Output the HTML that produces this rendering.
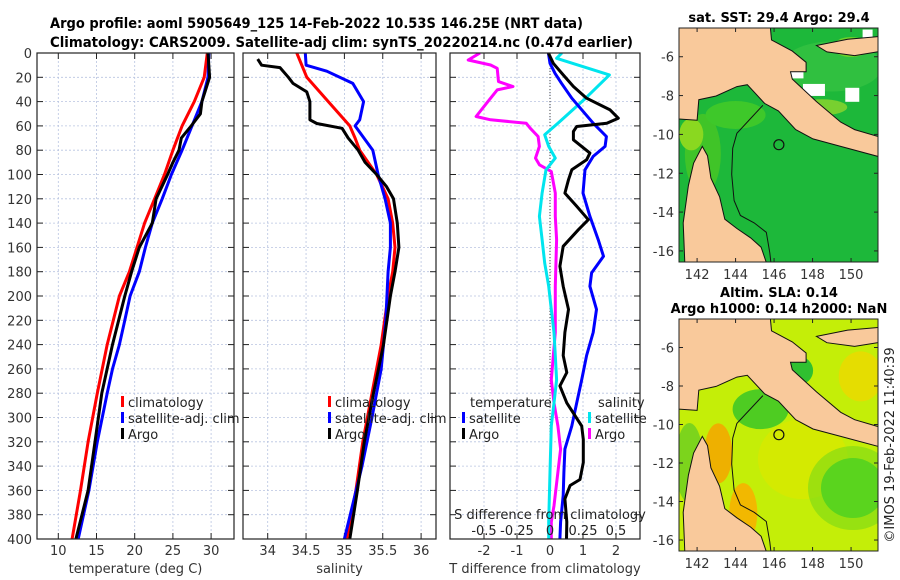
<!DOCTYPE html>
<html><head><meta charset="utf-8">
<style>
html,body{margin:0;padding:0;background:#fff;}
svg{display:block;font-family:"DejaVu Sans","Liberation Sans",sans-serif;}
</style></head>
<body>
<svg id="fig" width="900" height="580" viewBox="0 0 900 580" xmlns="http://www.w3.org/2000/svg">
<text x="50" y="28" font-size="14" font-weight="bold" fill="#000" textLength="533" lengthAdjust="spacingAndGlyphs">Argo profile: aoml 5905649_125 14-Feb-2022 10.53S 146.25E (NRT data)</text>
<text x="50" y="47" font-size="14" font-weight="bold" fill="#000" textLength="583" lengthAdjust="spacingAndGlyphs">Climatology: CARS2009. Satellite-adj clim: synTS_20220214.nc (0.47d earlier)</text>
<g id="panels"></g>
<g id="maps"></g>
<text transform="translate(894,445) rotate(-90)" text-anchor="middle" font-size="13" fill="#222">©IMOS 19-Feb-2022 11:40:39</text>
</svg>
<script>
// ---------- data ----------
const depthTicks = [0,20,40,60,80,100,120,140,160,180,200,220,240,260,280,300,320,340,360,380,400];
const tempTicks = [10,15,20,25,30];
const salTicks = [34,34.5,35,35.5,36];
const tdiffTicks = [-2,-1,0,1,2];
const sdiffTicks = [-0.5,-0.25,0,0.25,0.5];
const sdiffLabels = ["-0.5","-0.25","0","0.25","0.5"];

const tClimDepth = [0,20,40,60,80,100,120,140,160,180,200,240,280,320,360,400];
const tClimVal   = [29.5,29.1,27.8,26.2,25.0,23.9,22.6,21.3,20.3,19.3,18.0,16.4,15.1,13.9,12.9,11.8];
const tSatDepth  = [0,20,40,60,80,100,120,140,160,180,200,220,240,260,280,320,360,400];
const tSatVal    = [29.7,29.6,28.8,27.5,26.2,24.8,23.6,22.3,21.4,20.6,19.4,18.7,18.0,17.1,16.4,15.1,14.0,12.6];
const tArgoDepth = [0,20,40,50,55,60,70,80,90,100,120,140,160,180,200,240,280,320,360,400];
const tArgoVal   = [29.6,29.8,28.8,28.6,28.0,27.4,26.1,25.8,25.0,24.3,22.8,22.3,20.6,19.6,18.7,17.1,15.7,14.8,13.9,12.3];

const sClimDepth = [0,20,40,60,70,80,100,120,140,160,180,200,240,280,320,360,400];
const sClimVal   = [34.38,34.51,34.79,35.07,35.14,35.2,35.42,35.57,35.63,35.66,35.63,35.57,35.48,35.36,35.24,35.15,35.03];
const sSatDepth  = [0,10,15,25,40,55,60,80,100,120,140,160,180,220,260,300,340,400];
const sSatVal    = [34.49,34.5,34.77,35.11,35.25,35.2,35.14,35.37,35.44,35.53,35.6,35.6,35.57,35.54,35.48,35.36,35.23,35.0];
const sArgoDepth = [5,10,12,20,25,32,40,55,58,62,70,80,90,100,110,120,140,160,180,200,240,280,320,360,400];
const sArgoVal   = [33.87,33.92,34.16,34.27,34.33,34.51,34.55,34.55,34.64,34.97,35.05,35.18,35.27,35.42,35.55,35.64,35.69,35.71,35.66,35.6,35.51,35.38,35.26,35.17,35.07];

const dTSatDepth = [0,8.5,16.7,24.9,37.2,57.8,68.7,76.9,85.1,96.1,115.3,134.4,153.6,167.3,181,192,211,230,249,269,288,307,326,345,364,386,400];
const dTSatVal   = [-0.05,0,0.15,0.35,0.66,1.31,1.71,1.67,1.31,1.06,1.0,1.21,1.46,1.62,1.26,1.21,1.41,1.31,1.11,0.96,0.81,0.66,0.45,0.42,0.40,0.32,0.30];
const dTArgoDepth = [0,8.5,18,27.6,37.2,46.8,53.7,57.8,60.5,64.6,71.4,82.4,87.9,96.1,104.3,115.3,126.2,137.2,145.4,159.1,175.5,192,211,230,249,263,274,288,307,318,337,351,356,367,386,400];
const dTArgoVal   = [-0.05,0.1,0.4,0.71,1.11,1.82,2.07,1.72,0.81,0.71,0.71,1.21,1.11,0.66,0.56,0.45,0.81,1.16,0.86,0.40,0.30,0.40,0.56,0.45,0.40,0.51,0.30,0.51,0.96,1.01,1.01,0.91,0.61,0.45,0.51,0.5];
const dSSatDepth = [0,4.4,18,37.2,57.8,67.3,76.9,86.5,96.1,115.3,134.4,153.6,172.8,192,211,230,249,269,288,307,345,386,400];
const dSSatVal   = [0.09,0.05,0.45,0.27,0.06,-0.04,-0.01,0.04,-0.03,-0.06,-0.08,-0.06,-0.04,-0.01,0.01,0.03,0.04,0.05,0.03,0.01,0.0,-0.01,-0.01];
const dSArgoDepth = [0,5.8,9.9,12.6,23.5,27.6,30.4,41.3,52.3,55,57.8,61.9,68.7,76.9,86.5,92,97.5,115.3,134.4,153.6,192,230,269,288,307,326,345,372.6,386,400];
const dSArgoVal   = [-0.53,-0.62,-0.45,-0.40,-0.39,-0.28,-0.40,-0.48,-0.56,-0.45,-0.18,-0.15,-0.09,-0.08,-0.11,-0.08,0.01,0.04,0.04,0.05,0.04,0.04,0.01,0.03,0.06,0.08,0.06,0.03,0.01,0.01];

// ---------- helpers ----------
const NS = "http://www.w3.org/2000/svg";
function mk(tag, attrs, parent){ const e=document.createElementNS(NS,tag); for(const k in attrs) e.setAttribute(k,attrs[k]); if(parent) parent.appendChild(e); return e; }
const TOP=53, BOT=539;
const yScale = d => TOP + (d/400)*(BOT-TOP);
const panelsG = document.getElementById('panels');

function makePanel(name, x0, x1, xmin, xmax, ticks, tickLabels, xlabel, showY){
  const xs = v => x0 + (v - xmin)/(xmax - xmin)*(x1 - x0);
  const g = mk('g',{},panelsG);
  
  
  // grid
  depthTicks.forEach(d=>{
    const l = mk('line',{x1:x0,x2:x1,y1:yScale(d),y2:yScale(d),stroke:'#b8c4e0','stroke-width':0.8,'stroke-dasharray':'2,2'},g);
    
    
    mk('line',{x1:x0,x2:x0+6,y1:yScale(d),y2:yScale(d),stroke:'#222','stroke-width':1},g);
    mk('line',{x1:x1-6,x2:x1,y1:yScale(d),y2:yScale(d),stroke:'#222','stroke-width':1},g);
    if(showY){
      const t = mk('text',{x:x0-5,y:yScale(d)+5,'text-anchor':'end','font-size':13,fill:'#333'},g);
      t.textContent = d;
      
      
    }
  });
  ticks.forEach((v,i)=>{
    const l = mk('line',{x1:xs(v),x2:xs(v),y1:TOP,y2:BOT,stroke:'#b8c4e0','stroke-width':0.8,'stroke-dasharray':'2,2'},g);
    
    
    mk('line',{x1:xs(v),x2:xs(v),y1:BOT-6,y2:BOT,stroke:'#222','stroke-width':1},g);
    mk('line',{x1:xs(v),x2:xs(v),y1:TOP,y2:TOP+6,stroke:'#222','stroke-width':1},g);
    const t = mk('text',{x:xs(v),y:555,'text-anchor':'middle','font-size':13,fill:'#333'},g);
    t.textContent = tickLabels[i];
    
    
  });
  const xl = mk('text',{x:(x0+x1)/2,y:573,'text-anchor':'middle','font-size':13,fill:'#333'},g);
  xl.textContent = xlabel;
  
  
  const clipId = name+'-clip';
  const cp = mk('clipPath',{id:clipId},g);
  mk('rect',{x:x0,y:TOP,width:x1-x0,height:BOT-TOP},cp);
  const lines = mk('g',{'clip-path':'url(#'+clipId+')'},g);
  const frame = mk('rect',{x:x0,y:TOP,width:x1-x0,height:BOT-TOP,fill:'none',stroke:'#222','stroke-width':1.2},g);
  
  
  return {g, lines, xs};
}
function series(p, depths, vals, color, name, conv){
  conv = conv || (v=>v);
  const pts = depths.map((d,i)=> p.xs(conv(vals[i])).toFixed(1)+','+yScale(d).toFixed(1)).join(' ');
  const pl = mk('polyline',{points:pts,fill:'none',stroke:color,'stroke-width':3,'stroke-linejoin':'round'},p.lines);
  
  
}
function legendItem(g, x, y, color, label){
  if(color){ mk('rect',{x:x,y:y-11,width:3,height:11,fill:color},g); }
  const t = mk('text',{x:x+7,y:y,'font-size':13,fill:'#222'},g);
  t.textContent = label;
  
  
}

// Panel 1 temperature
const p1 = makePanel('temperature-panel', 37, 234, (37-58.3)/7.64+10, (234-58.3)/7.64+10, tempTicks, tempTicks.map(String), 'temperature (deg C)', true);
series(p1, tClimDepth, tClimVal, '#ff0000', 'temp-climatology-line');
series(p1, tSatDepth, tSatVal, '#0000ff', 'temp-satellite-line');
series(p1, tArgoDepth, tArgoVal, '#000000', 'temp-argo-line');
legendItem(p1.g, 121, 407, '#ff0000', 'climatology');
legendItem(p1.g, 121, 423, '#0000ff', 'satellite-adj. clim');
legendItem(p1.g, 121, 439, '#000000', 'Argo');

// Panel 2 salinity
const p2 = makePanel('salinity-panel', 243, 436, 34 - (267.7-243)/76.7, 34 + (436-267.7)/76.7, salTicks, ["34","34.5","35","35.5","36"], 'salinity', false);
series(p2, sClimDepth, sClimVal, '#ff0000', 'sal-climatology-line');
series(p2, sSatDepth, sSatVal, '#0000ff', 'sal-satellite-line');
series(p2, sArgoDepth, sArgoVal, '#000000', 'sal-argo-line');
legendItem(p2.g, 328, 407, '#ff0000', 'climatology');
legendItem(p2.g, 328, 423, '#0000ff', 'satellite-adj. clim');
legendItem(p2.g, 328, 439, '#000000', 'Argo');

// Panel 3 differences
const p3 = makePanel('difference-panel', 450, 640, -(550-450)/33, (640-550)/33, tdiffTicks, tdiffTicks.map(String), 'T difference from climatology', false);
const zl = mk('line',{x1:p3.xs(0),x2:p3.xs(0),y1:TOP,y2:BOT,stroke:'#444','stroke-width':1,'stroke-dasharray':'1,2'},p3.lines);


series(p3, dSArgoDepth, dSArgoVal, '#ff00ff', 'sal-argo-diff-line', v=>v*4);
series(p3, dSSatDepth, dSSatVal, '#00e5ee', 'sal-satellite-diff-line', v=>v*4);
series(p3, dTSatDepth, dTSatVal, '#0000ff', 'temp-satellite-diff-line');
series(p3, dTArgoDepth, dTArgoVal, '#000000', 'temp-argo-diff-line');
legendItem(p3.g, 463, 407, null, 'temperature');
legendItem(p3.g, 462, 423, '#0000ff', 'satellite');
legendItem(p3.g, 462, 439, '#000000', 'Argo');
legendItem(p3.g, 591, 407, null, 'salinity');
legendItem(p3.g, 588, 423, '#00e5ee', 'satellite');
legendItem(p3.g, 588, 439, '#ff00ff', 'Argo');
const sdt = mk('text',{x:550,y:519,'text-anchor':'middle','font-size':13,fill:'#222'},p3.g);
sdt.textContent='S difference from climatology';


sdiffTicks.forEach((v,i)=>{
  const t = mk('text',{x:p3.xs(v*4),y:535,'text-anchor':'middle','font-size':13,fill:'#222'},p3.g);
  t.textContent = sdiffLabels[i];
  
  
});

// ---------- maps ----------
const mapsG = document.getElementById('maps');
const LON0=141.06, LON1=151.4, LAT0=-4.52, LAT1=-16.57;
const zl2ll = (zx,zy)=>[142+(zx-185)/55.6, -6-(zy-155)/52];
const landPNG = [[117,60],[395,60],[400,110],[460,140],[500,170],[500,195],[455,195],[460,215],[530,275],[600,330],[640,350],[720,372],[720,425],[600,395],[520,375],[470,350],[420,300],[380,280],[330,230],[300,235],[240,260],[190,270],[185,325],[110,320],[110,60]];
const landNB = [[530,125],[620,108],[720,100],[720,140],[640,152],[560,142]];
const landCY = [[200,395],[215,420],[225,480],[250,530],[265,590],[300,615],[340,640],[370,665],[390,720],[150,720],[145,600],[160,500],[175,440]];
const contour = [[375,285],[340,320],[300,360],[288,400],[285,470],[292,540],[310,580],[350,600],[385,625],[395,680],[400,720]];

function makeMap(name, y0, y1, title1, title2, kind){
  const x0=679, x1=878;
  const px = lon => x0 + (lon-LON0)/(LON1-LON0)*(x1-x0);
  const py = lat => y0 + (lat-LAT0)/(LAT1-LAT0)*(y1-y0);
  const g = mk('g',{},mapsG);
  
  
  const cid = name+'-clip';
  const cp = mk('clipPath',{id:cid},g);
  mk('rect',{x:x0,y:y0,width:x1-x0,height:y1-y0},cp);
  const c = mk('g',{'clip-path':'url(#'+cid+')'},g);
  const toPts = arr => arr.map(p=>{const ll=zl2ll(p[0],p[1]); return px(ll[0]).toFixed(1)+','+py(ll[1]).toFixed(1);}).join(' ');
  const blob = (lon,lat,rx,ry,fill,op)=>mk('ellipse',{cx:px(lon),cy:py(lat),rx:rx,ry:ry,fill:fill,opacity:op||1},c);
  if(kind==='sst'){
    mk('rect',{x:x0,y:y0,width:x1-x0,height:y1-y0,fill:'#1db83a'},c);
    blob(142.3,-11,18,40,'#40c428');
    blob(141.7,-10,12,16,'#8ad820');
    blob(144,-9,30,14,'#3ec82a');
    blob(149,-6.5,50,25,'#30c040');
    mk('rect',{x:px(146.8),y:py(-6.6),width:14,height:10,fill:'#ffffff'},c);
    mk('rect',{x:px(147.5),y:py(-7.4),width:22,height:12,fill:'#ffffff'},c);
    mk('rect',{x:px(149.7),y:py(-7.6),width:14,height:14,fill:'#ffffff'},c);
    mk('rect',{x:px(150.6),y:py(-4.6),width:10,height:20,fill:'#ffffff'},c);
    blob(150,-5.5,18,10,'#6ed22a');
    blob(148.5,-8.6,25,8,'#78d030');
  } else {
    mk('rect',{x:x0,y:y0,width:x1-x0,height:y1-y0,fill:'#c4ee08'},c);
    blob(147.5,-11.8,45,40,'#d8e800',0.8);
    blob(150.1,-13.3,32,30,'#2ccc28');
    blob(150.1,-13.3,45,42,'#7ad818',0.6);
    blob(145.3,-9.2,28,20,'#4ecc22');
    blob(147.3,-7.2,14,14,'#30c030');
    blob(141.6,-12,14,40,'#7cd41c');
    blob(143.1,-11.5,14,30,'#eeb000');
    blob(144.4,-14.6,14,30,'#f2b800');
    blob(150.5,-7.5,22,25,'#eed800',0.8);
  }
  const lf = '#f9c99b';
  [landPNG,landNB,landCY].forEach(a=>{
    const pg = mk('polygon',{points:toPts(a),fill:lf,stroke:'#111','stroke-width':1},c);
    
    
  });
  const ct = mk('polyline',{points:toPts(contour),fill:'none',stroke:'#111','stroke-width':1},c);
  
  
  const pr = mk('circle',{cx:px(146.25),cy:py(-10.53),r:5,fill:'none',stroke:'#111','stroke-width':1.2},c);
  
  
  const fr = mk('rect',{x:x0,y:y0,width:x1-x0,height:y1-y0,fill:'none',stroke:'#222','stroke-width':1},g);
  
  
  [-6,-8,-10,-12,-14,-16].forEach(lat=>{
    mk('line',{x1:x0,x2:x0+4,y1:py(lat),y2:py(lat),stroke:'#222'},g);
    mk('line',{x1:x1-4,x2:x1,y1:py(lat),y2:py(lat),stroke:'#222'},g);
    const t = mk('text',{x:x0-5,y:py(lat)+5,'text-anchor':'end','font-size':13,fill:'#333'},g);
    t.textContent = lat;
    
    
  });
  [142,144,146,148,150].forEach(lon=>{
    mk('line',{x1:px(lon),x2:px(lon),y1:y1-4,y2:y1,stroke:'#222'},g);
    mk('line',{x1:px(lon),x2:px(lon),y1:y0,y2:y0+4,stroke:'#222'},g);
    const t = mk('text',{x:px(lon),y:y1+17,'text-anchor':'middle','font-size':13,fill:'#333'},g);
    t.textContent = lon;
    
    
  });
  const t1 = mk('text',{x:779,y:title2?y0-22:y0-6,'text-anchor':'middle','font-size':13,'font-weight':'bold',fill:'#000'},g);
  t1.textContent = title1;
  
  
  if(title2){
    const t2 = mk('text',{x:779,y:y0-6,'text-anchor':'middle','font-size':13,'font-weight':'bold',fill:'#000'},g);
    t2.textContent = title2;
    
    
  }
}
makeMap('sst-map', 28, 262, 'sat. SST: 29.4 Argo: 29.4', null, 'sst');
makeMap('sla-map', 319, 551, 'Altim. SLA: 0.14', 'Argo h1000: 0.14 h2000: NaN', 'sla');
</script>
</body></html>
